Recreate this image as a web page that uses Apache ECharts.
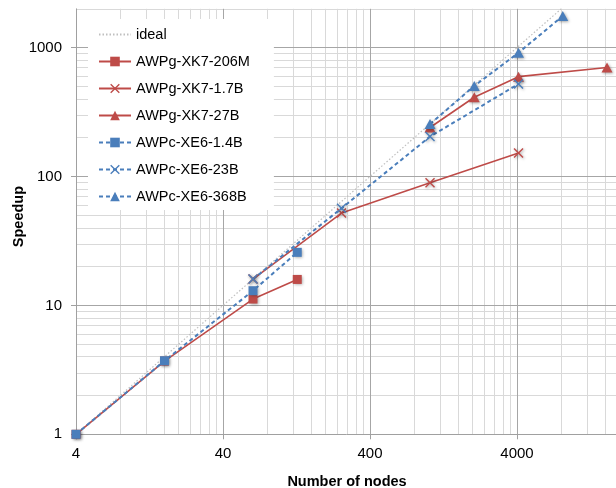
<!DOCTYPE html>
<html>
<head>
<meta charset="utf-8">
<script src="https://cdn.jsdelivr.net/npm/echarts@6/dist/echarts.min.js"></script>
<style>html,body{margin:0;padding:0;background:#fff}#c{width:616px;height:488px}</style>
</head>
<body>
<div id="c"></div>
<script>
// ---- data ----
var xTicks = [4, 40, 400, 4000];
var yTicks = [1, 10, 100, 1000];

var nodesIdeal = [4, 16, 64, 256, 1024, 4096, 16384];
var speedupIdeal = [1, 4, 16, 64, 256, 1024, 4096];

var nodes206M = [4, 16, 64, 128];
var speedup206M = [1, 3.7, 11.2, 15.9];

var nodes17B = [64, 256, 1024, 4096];
var speedup17B = [16, 52, 89.5, 152];

var nodes27B = [1024, 2048, 4096, 16384];
var speedup27B = [240, 412, 595, 700];

var nodes14B = [4, 16, 64, 128];
var speedup14B = [1, 3.72, 13, 25.8];

var nodes23B = [64, 256, 1024, 4096];
var speedup23B = [16, 56.7, 204, 522];

var nodes368B = [1024, 2048, 4096, 8192];
var speedup368B = [255, 504, 913, 1759];

// ---- build ----
function pairs(xs, ys) { return xs.map(function (x, i) { return [x, ys[i]]; }); }

var RED = '#BE4B48', BLUE = '#4A7EBB';
var XSYM = 'path://M0,1L1,0L5,4L9,0L10,1L6,5L10,9L9,10L5,6L1,10L0,9L4,5Z';
var FONT = 'Liberation Sans, Arial, sans-serif';

// gridline positions (log axis decades)
var xMajor = [], xMinor = [], yMajor = [], yMinor = [];
var XMIN = 4, XMAX = 40000, YMIN = 1, YMAX = 2000;
for (var b = XMIN; b < XMAX; b *= 10) {
  if (b > XMIN) xMajor.push(b);
  for (var k = 2; k <= 9; k++) if (b * k <= XMAX) xMinor.push(b * k);
}
for (var c = YMIN; c < YMAX; c *= 10) {
  if (c > YMIN) yMajor.push(c);
  for (var j = 2; j <= 9; j++) if (c * j <= YMAX) yMinor.push(c * j);
}
var gridLines = [];
xMinor.forEach(function (v) { gridLines.push({ xAxis: v, lineStyle: { color: '#d9d9d9', width: 1, type: 'solid' } }); });
yMinor.forEach(function (v) { gridLines.push({ yAxis: v, lineStyle: { color: '#d9d9d9', width: 1, type: 'solid' } }); });
xMajor.forEach(function (v) { gridLines.push({ xAxis: v, lineStyle: { color: '#a6a6a6', width: 1, type: 'solid' } }); });
yMajor.forEach(function (v) { gridLines.push({ yAxis: v, lineStyle: { color: '#a6a6a6', width: 1, type: 'solid' } }); });

var shadow = { shadowBlur: 3, shadowColor: 'rgba(0,0,0,0.35)', shadowOffsetX: 1, shadowOffsetY: 1 };
function mk(name, xs, ys, color, dashed, symbol, size) {
  return {
    name: name, type: 'line', data: pairs(xs, ys),
    symbol: symbol, symbolSize: size, showAllSymbol: true,
    lineStyle: { color: color, width: dashed ? 2 : 1.6, type: dashed ? [4, 3] : 'solid' },
    itemStyle: Object.assign({ color: color }, shadow),
    z: 3, animation: false
  };
}

var chart = echarts.init(document.getElementById('c'), null, { renderer: 'canvas' });
chart.setOption({
  backgroundColor: '#fff',
  animation: false,
  grid: { left: 76, top: 8.8, width: 588, height: 425.5, containLabel: false, outerBoundsMode: 'none' },
  xAxis: {
    type: 'log', logBase: 10, min: XMIN, max: XMAX,
    name: 'Number of nodes', nameLocation: 'middle', nameGap: 40, nameMoveOverlap: false,
    nameTextStyle: { fontFamily: FONT, fontWeight: 'bold', fontSize: 14.5, color: '#000', padding: [0, 46, 0, 0] },
    axisLine: { show: true, lineStyle: { color: '#a0a0a0', width: 1 } },
    axisTick: { show: true, length: 5, inside: false, customValues: xTicks, lineStyle: { color: '#a0a0a0' } },
    axisLabel: { fontFamily: FONT, fontSize: 15, color: '#000', margin: 12, customValues: xTicks,
      formatter: function (v) { return String(Math.round(v)); } },
    splitLine: { show: false }, minorTick: { show: false }, minorSplitLine: { show: false }
  },
  yAxis: {
    type: 'log', logBase: 10, min: YMIN, max: YMAX,
    name: 'Speedup', nameLocation: 'middle', nameGap: 50, nameRotate: 90, nameMoveOverlap: false,
    nameTextStyle: { fontFamily: FONT, fontWeight: 'bold', fontSize: 14.5, color: '#000', padding: [0, 0, 0, 10] },
    axisLine: { show: true, lineStyle: { color: '#a0a0a0', width: 1 } },
    axisTick: { show: true, length: 5, customValues: yTicks, lineStyle: { color: '#a0a0a0' } },
    axisLabel: { fontFamily: FONT, fontSize: 15, color: '#000', margin: 14, customValues: yTicks,
      formatter: function (v) { return String(Math.round(v)); } },
    splitLine: { show: false }
  },
  legend: {
    orient: 'vertical', left: 88, top: 19, z: 10,
    padding: [8, 24, 6, 10], itemGap: 12, itemWidth: 32, itemHeight: 12,
    backgroundColor: '#fff',
    textStyle: { fontFamily: FONT, fontSize: 14.5, color: '#000' },
    data: [{ name: 'ideal', itemStyle: { opacity: 0 } }, 'AWPg-XK7-206M', 'AWPg-XK7-1.7B', 'AWPg-XK7-27B', 'AWPc-XE6-1.4B', 'AWPc-XE6-23B', 'AWPc-XE6-368B']
  },
  series: [
    { name: 'gridlines', type: 'line', data: [], z: 0, silent: true,
      markLine: { z: 0, silent: true, symbol: ['none', 'none'], label: { show: false }, animation: false, data: gridLines } },
    { name: 'ideal', type: 'line', data: pairs(nodesIdeal, speedupIdeal), symbol: 'none', clip: true,
      lineStyle: { color: '#bfbfbf', width: 1.2, type: [1.5, 2] }, itemStyle: { color: '#bfbfbf' }, z: 2, animation: false },
    mk('AWPg-XK7-206M', nodes206M, speedup206M, RED, false, 'rect', 9),
    mk('AWPg-XK7-1.7B', nodes17B, speedup17B, RED, false, XSYM, 10),
    mk('AWPg-XK7-27B', nodes27B, speedup27B, RED, false, 'triangle', [11, 10]),
    mk('AWPc-XE6-1.4B', nodes14B, speedup14B, BLUE, true, 'rect', 9),
    mk('AWPc-XE6-23B', nodes23B, speedup23B, BLUE, true, XSYM, 10),
    mk('AWPc-XE6-368B', nodes368B, speedup368B, BLUE, true, 'triangle', [11, 10])
  ]
});
</script>
</body>
</html>
